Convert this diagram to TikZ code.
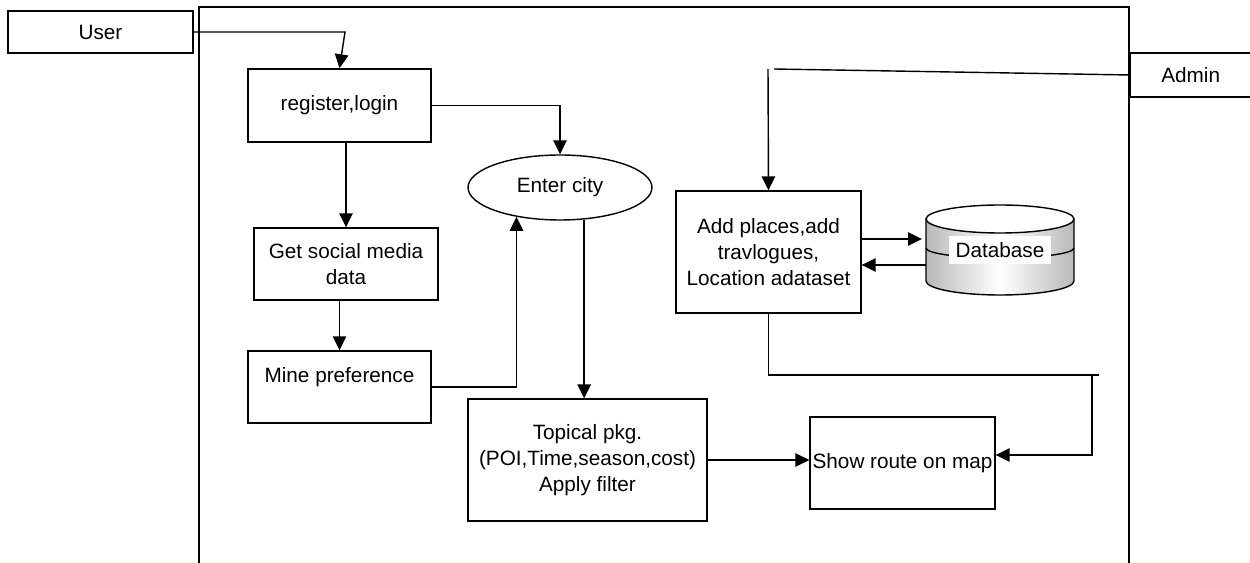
\documentclass[tikz,border=0pt]{standalone}
\usepackage{fontspec}
\setmainfont{Liberation Sans}
\usetikzlibrary{arrows.meta}
\usetikzlibrary{calc,shapes.geometric}

\tikzset{
 box/.style={draw, line width=0.8pt, inner sep=1pt, align=center},
 oval/.style={draw, ellipse, line width=0.8pt, inner sep=0pt},
}

\begin{document}
\begin{tikzpicture} [x=0.02cm, y=-0.02cm, line width=0.8pt, >={Triangle[length=0.28cm,width=0.27cm]},
 font=\fontsize{11.8}{14.7}\selectfont]
\useasboundingbox (0,0) rectangle (1250,563);
\draw (199,563) -- (199,7) -- (1129,7) -- (1129,563);

\node[box, minimum width=3.7cm, minimum height=0.84cm] (user) at (100.5,32) {User};
\node[box, minimum width=2.8cm, minimum height=0.88cm, anchor=west] (admin) at (1130,75) {Admin\hspace{0.4cm}};
\node[box, minimum width=3.66cm, minimum height=1.46cm] (reg) at (339.5,105.5) {register,login};
\node[oval, minimum width=3.68cm, minimum height=1.3cm] (city) at (560,187.5) {Enter city};
\node[box, minimum width=3.68cm, minimum height=1.44cm] (social) at (346,264) {Get social media\\data};
\node[box, minimum width=3.66cm, minimum height=1.44cm, text depth=0.5cm] (mine) at (339.5,387) {Mine preference};
\node[box, minimum width=4.78cm, minimum height=2.44cm] (topical) at (587.5,460) {Topical pkg.\\(POI,Time,season,cost)\\Apply filter};
\node[box, minimum width=3.7cm, minimum height=1.84cm] (show) at (902.5,463) {Show route on map};
\node[box, minimum width=3.7cm, minimum height=2.44cm] (add) at (768.5,252) {Add places,add\\travlogues,\\Location adataset};

% database drum
\shade[left color=gray!55, right color=gray!55, middle color=white] (926,219) -- (926,281)
 arc[start angle=180, end angle=360, x radius=1.48cm, y radius=0.28cm] -- (1074,219)
 arc[start angle=0, end angle=180, x radius=1.48cm, y radius=0.28cm] -- cycle;
\draw (926,219) -- (926,281) arc[start angle=180, end angle=360, x radius=1.48cm, y radius=0.28cm] -- (1074,219);
\draw[fill=white] (1000,219) ellipse[x radius=1.48cm, y radius=0.28cm];
\draw (926,248) arc[start angle=180, end angle=360, x radius=1.48cm, y radius=0.2cm];
\node[fill=white, inner sep=0.13cm] (db) at (1000,250) {Database};

\coordinate (ubend) at (345,32);
\coordinate (aend) at (774,69);
\coordinate (atop) at (768,69);
\coordinate (dbin) at (922,239);
\coordinate (dbout) at (926,265);
\coordinate (rbend) at (1092,375);
\coordinate (rend) at (1099,375);

\draw[->] (user.east) -- (ubend) -- (reg.north);
\draw[->] (reg.east) -| (city.north);
\draw[->] (reg.south -| social.north) -- (social.north);
\draw[->] (social.south -| mine.north) -- (mine.north);
\draw[->] (mine.east) -| (city.214);
\draw[->] (city.-53) -- (city.-53 |- topical.north);
\draw[->] (topical.east) -- (topical.east -| show.west);
\draw (admin.west) -- (aend);
\draw[->] (atop) -- (add.north);
\draw[->] (add.east |- dbin) -- (dbin);
\draw[->] (dbout) -- (add.east |- dbout);
\draw (add.south) |- (rend);
\draw[->] (rbend) |- ($(show.east)+(0,-8)$);
\end{tikzpicture}
\end{document}
